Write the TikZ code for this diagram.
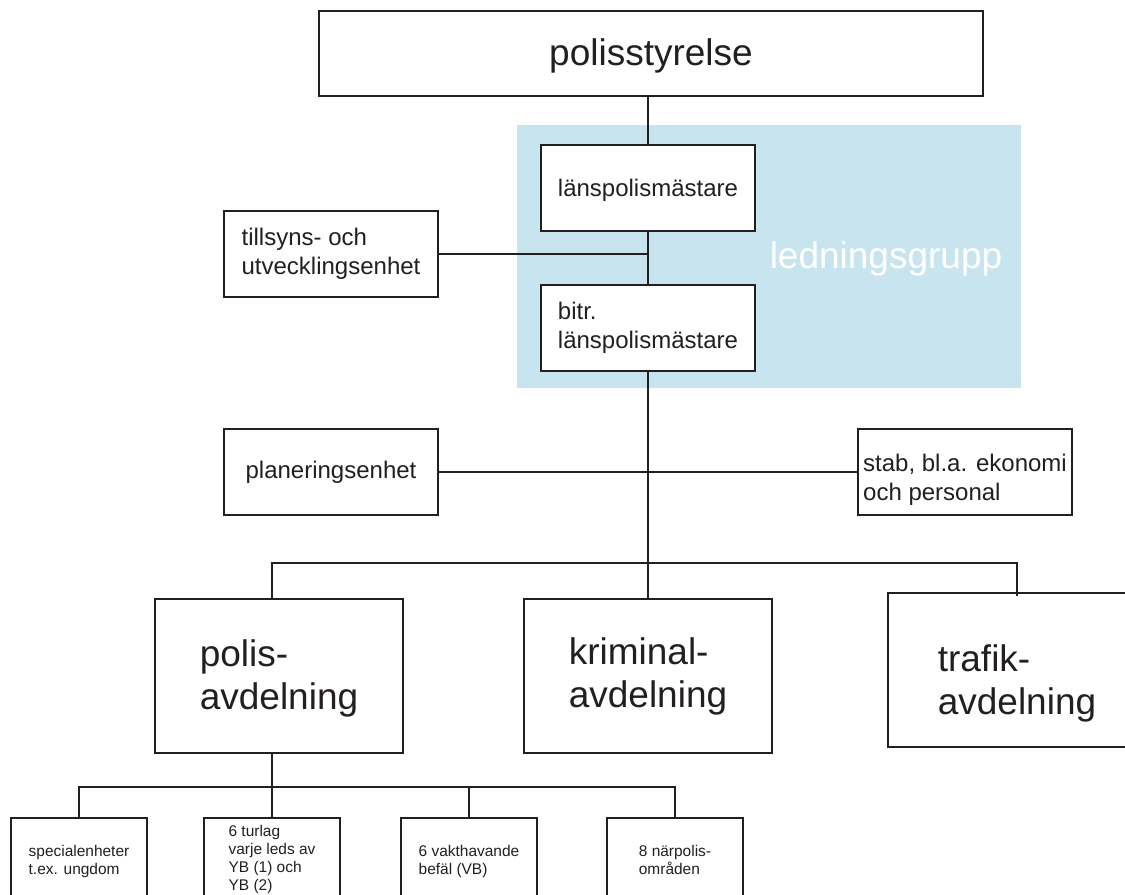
\documentclass[tikz,border=0pt]{standalone}
\usepackage{fontspec}
\setmainfont{Liberation Sans}
\usetikzlibrary{calc}
\definecolor{ink}{HTML}{231F20}
\definecolor{lblue}{HTML}{C8E5EF}
\begin{document}
\begin{tikzpicture}[x=0.75pt,y=-0.75pt,
  box/.style={draw=ink, line width=1.9pt, fill=white, inner sep=0pt, align=left, text=ink},
  midbox/.style={box, minimum width=160.5pt, minimum height=64.5pt, font=\fontsize{18}{21.5}\selectfont},
  bigbox/.style={box, minimum width=186pt, minimum height=115.5pt, font=\fontsize{27.75}{32.25}\selectfont},
  lowbox/.style={box, minimum width=102pt, minimum height=97.5pt},
  txt/.style={inner sep=0pt, align=left, text=ink},
  big/.style={font=\fontsize{27.75}{32.25}\selectfont},
  small/.style={font=\fontsize{11.6}{13.5}\selectfont},
  wire/.style={draw=ink, line width=1.9pt}]
\useasboundingbox (0,0) rectangle (1125,894);
\clip (0,0) rectangle (1125,894);
% management group background
\fill[lblue] (517,125) rectangle (1021,388);
\node[txt, text=white, big] (lg) at (886,259) {ledningsgrupp};
% boxes
\node[box, minimum width=498pt, minimum height=63.75pt, font=\fontsize{27.75}{32.25}\selectfont] (top) at (651,53.5) {\rule{0pt}{23pt}polisstyrelse};
\node[midbox] (lans) at (648,188) {\rule{0pt}{16pt}länspolismästare};
\node[midbox] (bitr) at (648,328) {bitr.\\länspolismästare};
\node[midbox] (tills) at (331,254) {tillsyns- och\\utvecklingsenhet};
\node[midbox] (plan) at (331,472) {planeringsenhet};
\node[midbox] (stab) at (965,472) {\rule{0pt}{25pt}stab, bl.a. ekonomi\\och personal};
\node[bigbox] (polis) at (279,676) {\rule{0pt}{24pt}polis-\\avdelning};
\node[bigbox] (krim) at (648,676) {kriminal-\\avdelning};
\node[bigbox, minimum width=193.5pt] (traf) at (1017,670) {};
\node[txt, big, yshift=-10pt] (traft) at (traf.center) {trafik-\\avdelning};
\node[lowbox] (b1) at (79,883) {};
\node[lowbox] (b2) at (272,883) {};
\node[lowbox] (b3) at (469,883) {};
\node[lowbox] (b4) at (675,883) {};
\node[txt, small, anchor=north, yshift=-21pt] (b1t) at (b1.north) {specialenheter\\t.ex. ungdom};
\node[txt, small, anchor=north, yshift=-6pt] (b2t) at (b2.north) {6 turlag\\varje leds av\\YB (1) och\\YB (2)};
\node[txt, small, anchor=north, yshift=-21pt] (b3t) at (b3.north) {6 vakthavande\\befäl (VB)};
\node[txt, small, anchor=north, yshift=-21pt] (b4t) at (b4.north) {8 närpolis-\\områden};
% helper levels
\coordinate (bus) at (0,563);
\coordinate (sub) at (0,787);
% connectors
\draw[wire] (top.south -| lans.north) -- (lans.north);
\draw[wire] (lans.south) -- (bitr.north);
\draw[wire] (tills.east) -- (tills.east -| lans.south);
\draw[wire] (plan.east) -- (stab.west);
\draw[wire] (bitr.south) -- (krim.north);
\draw[wire] ([xshift=-5.25pt]polis.north) -- ([xshift=-5.25pt]polis.north |- bus) -- (traf.north |- bus) -- ([yshift=-3pt]traf.north);
\draw[wire] ([xshift=-5.25pt]polis.south) -- (b2.north);
\draw[wire] (b1.north) -- (b1.north |- sub) -- (b4.north |- sub) -- (b4.north);
\draw[wire] (b3.north) -- (b3.north |- sub);
\end{tikzpicture}
\end{document}
